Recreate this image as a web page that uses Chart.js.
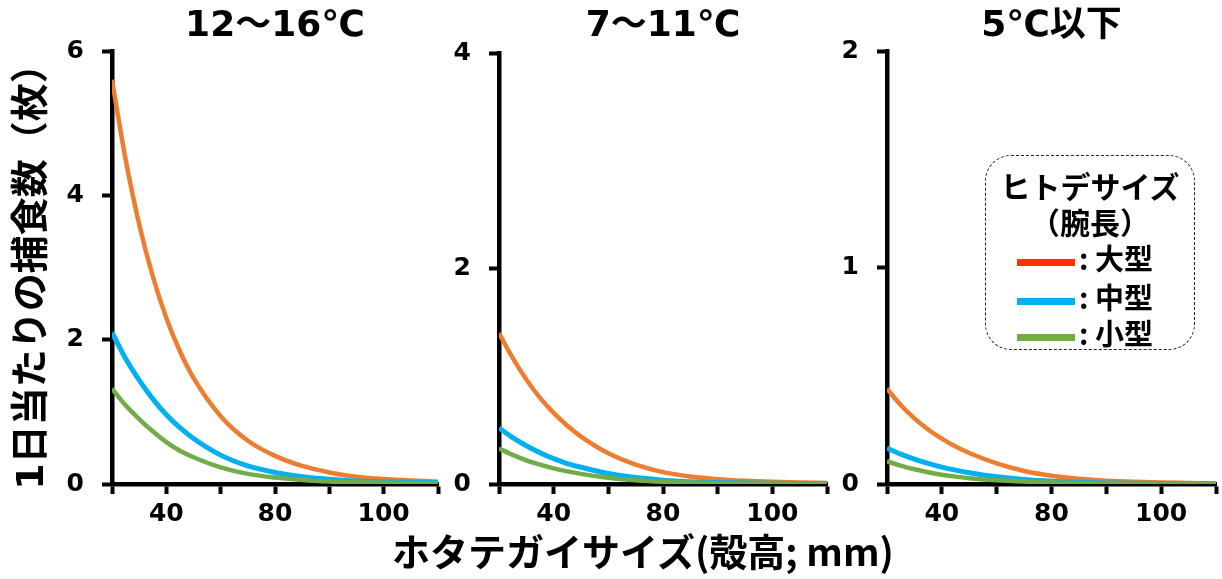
<!DOCTYPE html>
<html lang="ja">
<head>
<meta charset="utf-8">
<script src="https://cdn.jsdelivr.net/npm/chart.js@4.4.1/dist/chart.umd.min.js"></script>
<style>
   html, body { margin: 0; padding: 0; background: #fff; }
   body { width: 1222px; height: 579px; position: relative; overflow: hidden; font-family: "Noto Sans CJK JP", sans-serif; }
   canvas { position: absolute; top: 0; }
   #x-title { position: absolute; left: 643px; top: 529px; transform: translateX(-50%); font-size: 38px; font-weight: bold; line-height: 42px; white-space: nowrap; color: #000; }
   #legend { position: absolute; left: 985px; top: 155px; width: 208px; height: 193px; border: 1.5px dashed #222; border-radius: 26px; }
   #legend .head { position: absolute; left: 0; width: 100%; text-align: center; font-size: 30px; font-weight: bold; line-height: 30px; }
   #legend .row { position: absolute; left: 31px; height: 30px; font-size: 29px; font-weight: bold; line-height: 30px; white-space: nowrap; }
   #legend .swatch { display: inline-block; width: 58px; height: 7px; vertical-align: middle; margin-right: 4px; }
</style>
</head>
<body>
<canvas id="chart1" width="450" height="579" style="left:0px"></canvas>
<canvas id="chart2" width="392" height="579" style="left:440px"></canvas>
<canvas id="chart3" width="392" height="579" style="left:830px"></canvas>
<div id="x-title">ホタテガイサイズ(殻高; mm)</div>
<div id="legend"></div>

<script>
/* ---------------------------------------------------------------------------------*/
/* Data */
/* ---------------------------------------------------------------------------------*/

// shell height (mm)
const sizes = [20, 25, 30, 35, 40, 45, 50, 60, 70, 80, 90, 100, 110, 120, 130, 140];

const panelTitles = ['12〜16℃', '7〜11℃', '5℃以下'];
const yMax = [6, 4, 2];
const yStep = [2, 2, 1];
const xTickLabels = ['', '40', '', '80', '', '100', ''];
const seriesNames = ['大型', '中型', '小型'];

// 12~16 C
const large1 = [5.6, 4.5, 3.6, 2.88, 2.3, 1.84, 1.47, 0.94, 0.6, 0.39, 0.25, 0.16, 0.1, 0.07, 0.05, 0.03];
const medium1 = [2.1, 1.74, 1.44, 1.18, 0.96, 0.78, 0.63, 0.4, 0.25, 0.16, 0.1, 0.065, 0.042, 0.03, 0.024, 0.02];
const small1 = [1.32, 1.09, 0.9, 0.73, 0.58, 0.46, 0.37, 0.23, 0.14, 0.09, 0.056, 0.035, 0.023, 0.016, 0.012, 0.01];

// 7~11 C
const large2 = [1.4, 1.17, 0.97, 0.8, 0.66, 0.54, 0.44, 0.285, 0.18, 0.11, 0.07, 0.045, 0.03, 0.02, 0.014, 0.01];
const medium2 = [0.52, 0.43, 0.355, 0.29, 0.235, 0.19, 0.155, 0.097, 0.06, 0.036, 0.022, 0.014, 0.009, 0.006, 0.005, 0.004];
const small2 = [0.33, 0.27, 0.22, 0.18, 0.145, 0.117, 0.094, 0.058, 0.035, 0.021, 0.013, 0.008, 0.005, 0.004, 0.003, 0.002];

// 5 C and below
const large3 = [0.44, 0.365, 0.303, 0.252, 0.21, 0.173, 0.143, 0.095, 0.06, 0.038, 0.024, 0.015, 0.01, 0.007, 0.005, 0.003];
const medium3 = [0.165, 0.138, 0.115, 0.095, 0.078, 0.064, 0.052, 0.033, 0.021, 0.013, 0.008, 0.005, 0.003, 0.002, 0.0015, 0.001];
const small3 = [0.105, 0.085, 0.068, 0.054, 0.043, 0.034, 0.027, 0.017, 0.011, 0.007, 0.0045, 0.003, 0.002, 0.0012, 0.0008, 0.0005];

/* ---------------------------------------------------------------------------------*/
/* Styles */
/* ---------------------------------------------------------------------------------*/

const lineColors = ['#ED7D31', '#00B0F0', '#70AD47'];
const legendColors = ['#FF3300', '#00B0F0', '#70AD47'];
const lineWidths = [4.5, 5, 4.5];
const drawOrder = [2, 1, 0];

const numFont = '"DejaVu Sans", sans-serif';
const textFont = '"DejaVu Sans", "Noto Sans CJK JP", sans-serif';

// canvas left, y-axis x, right end x, top of plot (page pixels)
const layouts = [
   { left: 0, width: 450, axisX: 112, rightX: 438, top: 51 },
   { left: 440, width: 392, axisX: 499, rightX: 827, top: 53 },
   { left: 830, width: 392, axisX: 887, rightX: 1216, top: 51 }
];
const plotBottom = 484;

/* ---------------------------------------------------------------------------------*/
/* Chart builder */
/* ---------------------------------------------------------------------------------*/

const makeChart = (id, idx, series) => {
   const lay = layouts[idx];
   const titleSize = 36;
   const titleLine = titleSize * 1.2;

   const axisGrid = {
      display: true,
      drawOnChartArea: false,
      drawTicks: true,
      tickLength: 10,
      tickWidth: 4,
      tickColor: '#000'
   };
   const axisBorder = { display: true, color: '#000', width: 4.5 };

   return new Chart(document.getElementById(id), {
      type: 'line',
      data: {
         datasets: series.map((vals, i) => ({
            label: seriesNames[i],
            data: sizes.map((x, j) => ({ x: x, y: vals[j] })),
            borderColor: lineColors[i],
            borderWidth: lineWidths[i],
            pointRadius: 0,
            cubicInterpolationMode: 'monotone',
            fill: false,
            order: drawOrder[i]
         }))
      },
      options: {
         responsive: false,
         animation: false,
         devicePixelRatio: 1,
         layout: {
            padding: { left: 0, right: lay.left + lay.width - lay.rightX, top: 0, bottom: 0 }
         },
         plugins: {
            legend: { display: false },
            tooltip: { enabled: false },
            title: {
               display: true,
               text: panelTitles[idx],
               fullSize: false,
               color: '#000',
               font: { family: textFont, size: titleSize, weight: 'bold', lineHeight: 1.2 },
               padding: { top: 5, bottom: lay.top - 5 - titleLine }
            }
         },
         scales: {
            x: {
               type: 'linear',
               min: 20,
               max: 140,
               afterFit: (scale) => { scale.height = 579 - plotBottom; },
               afterBuildTicks: (scale) => {
                  scale.ticks = sizes.filter(v => v % 20 === 0).map(v => ({ value: v }));
               },
               ticks: {
                  autoSkip: false,
                  maxRotation: 0,
                  padding: 5,
                  color: '#000',
                  font: { family: numFont, size: 25, weight: 'bold' },
                  callback: (value, index) => xTickLabels[index]
               },
               grid: axisGrid,
               border: axisBorder
            },
            y: {
               min: 0,
               max: yMax[idx],
               afterFit: (scale) => { scale.width = lay.axisX - lay.left; },
               ticks: {
                  stepSize: yStep[idx],
                  padding: 18,
                  color: '#000',
                  font: { family: numFont, size: 25, weight: 'bold' }
               },
               grid: axisGrid,
               border: axisBorder,
               title: {
                  display: idx === 0,
                  text: '1日当たりの捕食数（枚）',
                  color: '#000',
                  padding: { top: 10, bottom: 0 },
                  font: { family: textFont, size: 38, weight: 'bold', lineHeight: 1.2 }
               }
            }
         }
      }
   });
};

/* ---------------------------------------------------------------------------------*/
/* Render the three panels */
/* ---------------------------------------------------------------------------------*/

makeChart('chart1', 0, [large1, medium1, small1]);
makeChart('chart2', 1, [large2, medium2, small2]);
makeChart('chart3', 2, [large3, medium3, small3]);

/* ---------------------------------------------------------------------------------*/
/* Legend box */
/* ---------------------------------------------------------------------------------*/

const legend = document.querySelector('#legend');
const rowTops = [86, 125, 161];

legend.innerHTML = `
   <div class="head" style="top:14px">ヒトデサイズ</div>
   <div class="head" style="top:50px">（腕長）</div>
   ${seriesNames.map((name, i) => `
      <div class="row" style="top:${rowTops[i]}px">
         <span class="swatch" style="background:${legendColors[i]}"></span>: ${name}
      </div>`).join('')}
`;
</script>
</body>
</html>
